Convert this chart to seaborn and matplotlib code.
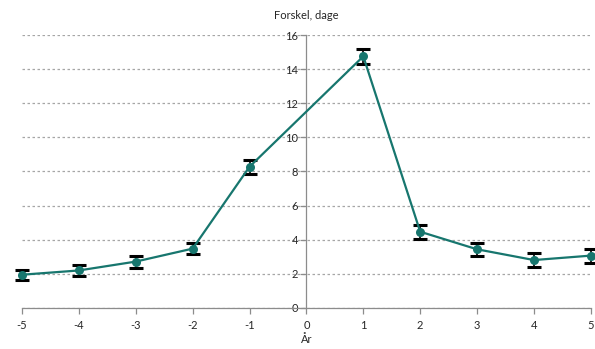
"""Line chart with error bars: difference in days by year relative to event."""
import matplotlib
matplotlib.use("Agg")
import matplotlib.pyplot as plt
import numpy as np
import pandas as pd
import seaborn as sns

YEARS = [-5, -4, -3, -2, -1, 1, 2, 3, 4, 5]
DIFF_DAYS = [1.95, 2.2, 2.72, 3.48, 8.28, 14.75, 4.47, 3.44, 2.81, 3.07]
ERR_DAYS = [0.3, 0.33, 0.35, 0.33, 0.42, 0.43, 0.42, 0.38, 0.39, 0.41]
X_TICKS = [-5, -4, -3, -2, -1, 0, 1, 2, 3, 4, 5]
Y_TICKS = [0, 2, 4, 6, 8, 10, 12, 14, 16]

TEAL = "#17766e"
GRID = "#a6a6a6"
AXIS = "#8c8c8c"


def main():
    sns.set_style("white")
    plt.rcParams["font.family"] = ["Lato", "DejaVu Sans"]
    df = pd.DataFrame({"aar": YEARS, "forskel": DIFF_DAYS, "err": ERR_DAYS})

    fig = plt.figure(figsize=(5.95, 3.49), dpi=100)
    ax = fig.add_axes([0.037, 0.1175, 0.956, 0.7822])

    bars = ax.errorbar(df.aar, df.forskel, yerr=df.err, fmt="none", ecolor="black",
                       elinewidth=1.2, capsize=5, capthick=2.2, zorder=3)
    for art in bars.lines[1] + bars.lines[2]:
        art.set_clip_on(False)
    sns.lineplot(data=df, x="aar", y="forskel", ax=ax, color=TEAL, linewidth=1.6,
                 marker="o", markersize=6.5, markeredgewidth=0, zorder=4, clip_on=False)

    ax.set_xlim(-5, 5)
    ax.set_ylim(0, 16)
    ax.set_xticks(X_TICKS)
    ax.set_yticks(Y_TICKS)
    ax.set_xticklabels([str(t) for t in X_TICKS])
    ax.grid(axis="y", color=GRID, linestyle=(0, (2, 2)), linewidth=0.9)
    ax.set_axisbelow(True)

    for side in ["top", "right"]:
        ax.spines[side].set_visible(False)
    ax.spines["left"].set_position(("data", 0))
    ax.spines["left"].set_color(AXIS)
    ax.spines["bottom"].set_color(AXIS)
    ax.spines["left"].set_linewidth(0.9)
    ax.spines["bottom"].set_linewidth(0.9)

    ax.tick_params(axis="x", direction="out", length=4, width=0.9, color=AXIS,
                   labelsize=8, pad=5, bottom=True)
    ax.tick_params(axis="y", direction="out", length=4, width=0.9, color=AXIS,
                   labelsize=8, pad=2, left=True)

    ax.set_xlabel("År", fontsize=8, labelpad=2)
    ax.set_ylabel("Forskel, dage", fontsize=8, rotation=0, ha="center", va="bottom")
    ax.yaxis.set_label_coords(0.5, 1.05)

    fig.savefig("out.png", dpi=100)


if __name__ == "__main__":
    main()
